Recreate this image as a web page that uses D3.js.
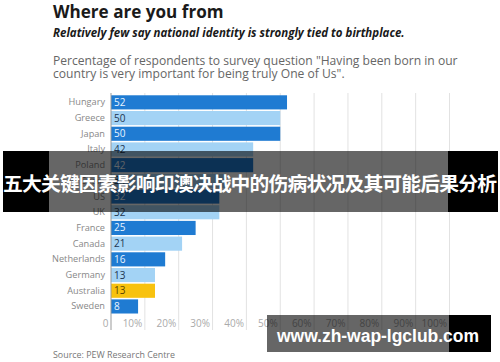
<!DOCTYPE html>
<html><head><meta charset="utf-8">
<script src="https://cdn.jsdelivr.net/npm/d3@7"></script>
<style>body{margin:0;background:#fff}svg{display:block}</style>
</head><body><svg id="c" width="500" height="362"></svg>
<script>
const countries = ["Hungary","Greece","Japan","Italy","Poland","Spain","US","UK","France","Canada","Netherlands","Germany","Australia","Sweden"];
const values = [52,50,50,42,42,34,32,32,25,21,16,13,13,8];
const colorKinds = ["dark","light","dark","light","dark","light","dark","light","dark","light","dark","light","highlight","dark"];
const tickValues = [0,10,20,30,40,50,60,70,80,90,100];
const tickLabels = ["0","10%","20%","30%","40%","50%","60%","70%","80%","90%","100%"];
const title = "Where are you from";
const subtitle = "Relatively few say national identity is strongly tied to birthplace.";
const desc = ["Percentage of respondents to survey question \"Having been born in our", "country is very important for being truly One of Us\"."];
const source = "Source: PEW Research Centre";
const banner = "五大关键因素影响印澳决战中的伤病状况及其可能后果分析";
const watermark = "www.zh-wap-lgclub.com";

const fill = {dark:"#1f7bd2", light:"#a3d3f5", highlight:"#f8c20f"};
const txt = {dark:"#e8f4ff", light:"#1d3550", highlight:"#5a4300"};
const F = "'Open Sans', sans-serif";

const svg = d3.select("#c");
svg.append("rect").attr("width",500).attr("height",362).attr("fill","#fff");

const x = d3.scaleLinear().domain([0,100]).range([111,449.5]);
const y = d3.scaleBand().domain(countries).range([94.5,314.3]).paddingInner(0.1).paddingOuter(0.05);

svg.append("text").attr("x",53).attr("y",17.5).attr("font-family",F).attr("font-weight",700)
  .attr("font-size",17.1).attr("fill","#1a1a1a").text(title);
svg.append("text").attr("x",53).attr("y",37).attr("font-family",F).attr("font-weight",700).attr("font-style","italic")
  .attr("font-size",11.5).attr("fill","#1a1a1a").text(subtitle);
desc.forEach((d,i)=>svg.append("text").attr("x",53).attr("y",65+i*12.5).attr("font-family",F)
  .attr("font-size",12.1).attr("fill","#666").text(d));

// gridlines
svg.append("g").selectAll("line").data(tickValues.slice(1)).join("line")
  .attr("x1",d=>x(d)).attr("x2",d=>x(d)).attr("y1",93).attr("y2",330)
  .attr("stroke","#e2e2e2").attr("stroke-width",1);

// bars
const rows = countries.map((c,i)=>({c, v:values[i], k:colorKinds[i]}));
svg.append("g").selectAll("rect").data(rows).join("rect")
  .attr("x",x(0)).attr("y",d=>y(d.c)).attr("width",d=>x(d.v)-x(0)).attr("height",y.bandwidth())
  .attr("fill",d=>fill[d.k]);
svg.append("g").selectAll("text").data(rows).join("text")
  .attr("x",x(0)+3).attr("y",d=>y(d.c)+y.bandwidth()/2).attr("dy","0.35em")
  .attr("font-family",F).attr("font-size",10).attr("fill",d=>txt[d.k]).text(d=>d.v);

// y axis
const ya = svg.append("g").attr("transform",`translate(${x(0)},0)`)
  .call(d3.axisLeft(y).tickSize(0).tickPadding(6));
ya.select(".domain").remove();
ya.selectAll("text").attr("font-family",F).attr("font-size",9.2).attr("fill","#888");
svg.append("line").attr("x1",x(0)).attr("x2",x(0)).attr("y1",93).attr("y2",330).attr("stroke","#999");

// x tick labels
const xa = svg.append("g").attr("transform","translate(0,323)")
  .call(d3.axisBottom(x).tickValues(tickValues).tickFormat((d,i)=>tickLabels[i]).tickSize(0));
xa.select(".domain").remove();
xa.selectAll("text").attr("font-family",F).attr("font-size",10).attr("fill","#aaa")
  .attr("text-anchor","end").attr("dx",-3).attr("dy","0.35em").attr("y",0);

svg.append("text").attr("x",53).attr("y",358).attr("font-family",F).attr("font-size",8.9).attr("fill","#777").text(source);

// overlay banners
svg.append("rect").attr("x",3).attr("y",151).attr("width",46).attr("height",61).attr("fill","#000");
svg.append("rect").attr("x",448).attr("y",151).attr("width",50).attr("height",61).attr("fill","#000");
svg.append("rect").attr("x",49).attr("y",151).attr("width",399).attr("height",61).attr("fill","rgba(0,0,0,0.6)");
svg.append("text").attr("x",250).attr("y",191).attr("text-anchor","middle")
  .attr("font-family","'Noto Sans CJK SC'").attr("font-weight",700).attr("font-size",19.8)
  .attr("textLength",494).attr("fill","#fff").text(banner);

svg.append("rect").attr("x",449).attr("y",315).attr("width",42).attr("height",37).attr("fill","#000");
svg.append("rect").attr("x",267).attr("y",315).attr("width",182).attr("height",37).attr("fill","rgba(0,0,0,0.6)");
svg.append("text").attr("x",277).attr("y",342).attr("font-family","'Liberation Sans', Arial, sans-serif")
  .attr("font-weight",700).attr("font-size",17.5).attr("textLength",202).attr("fill","#fff").text(watermark);
</script></body></html>
